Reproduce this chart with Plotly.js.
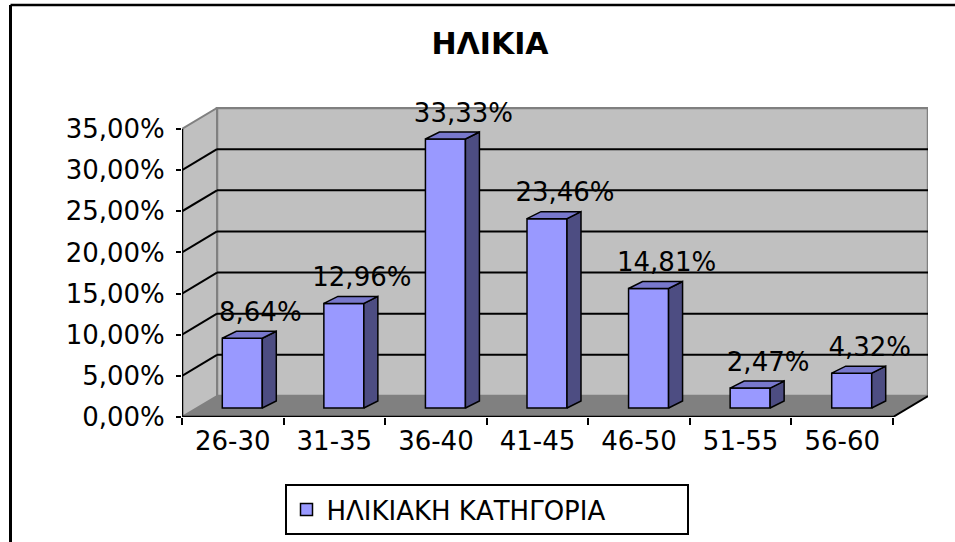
<!DOCTYPE html>
<html>
<head>
<meta charset="utf-8">
<script src="https://cdn.plot.ly/plotly-3.0.1.min.js"></script>
<style>
  html, body { margin: 0; padding: 0; background: #ffffff; }
  #chart { width: 955px; height: 542px; }
</style>
</head>
<body>
<div id="chart"></div>
<script>
// ---------------- data ----------------
const titleText = 'ΗΛΙΚΙΑ';
const seriesName = 'ΗΛΙΚΙΑΚΗ ΚΑΤΗΓΟΡΙΑ';
const categories = ['26-30', '31-35', '36-40', '41-45', '46-50', '51-55', '56-60'];
const values = [8.64, 12.96, 33.33, 23.46, 14.81, 2.47, 4.32];
const yTickVals = [0, 5, 10, 15, 20, 25, 30, 35];
const yTickText = ['0,00%', '5,00%', '10,00%', '15,00%', '20,00%', '25,00%', '30,00%', '35,00%'];

// ---------------- geometry / style ----------------
const FONT = 'DejaVu Sans, Arial, sans-serif';
const M = { l: 182, r: 27, t: 107, b: 125 };
const W = 955 - M.l - M.r, H = 542 - M.t - M.b;
const pxPerCat = 711 / 7;                 // front plane
const pxPerPct = 288 / 35;                // front plane
const DX = 35 / pxPerCat;                 // depth offset in x units
const DY = 21 / pxPerPct;                 // depth offset in y units
const xMax = categories.length + DX;
const yMax = H / pxPerPct;
// bar plane (slightly deeper, own scale)
const barPxPerPct = 8.07;
const barBasePx = 9;
const y2Range = [-barBasePx / barPxPerPct, (H - barBasePx) / barPxPerPct];
const barShift = 9.5 / pxPerCat;
const barW = 40 / pxPerCat;
const sideX = 14 / pxPerCat;
const sideY = 7 / barPxPerPct;
const labShiftX = 18 / pxPerCat;
const labShiftY = 24 / barPxPerPct;

const FRONT = '#9999FF', TOP = '#7878CC', SIDE = '#4D4D82';

const traces = [];
const centers = categories.map((c, i) => i + 0.5 + barShift);

// front faces
traces.push({
  type: 'bar', name: seriesName, x: centers, y: values, width: barW,
  xaxis: 'x', yaxis: 'y2',
  marker: { color: FRONT, line: { color: '#000000', width: 1.5 } },
  hoverinfo: 'skip', showlegend: true
});
// side and top faces
values.forEach((v, i) => {
  const l = centers[i] - barW / 2, r = centers[i] + barW / 2;
  traces.push({
    type: 'scatter', mode: 'lines', xaxis: 'x', yaxis: 'y2', showlegend: false, hoverinfo: 'skip',
    x: [r, r + sideX, r + sideX, r, r], y: [0, sideY, v + sideY, v, 0],
    fill: 'toself', fillcolor: SIDE, line: { color: '#000000', width: 1.5 }
  });
  traces.push({
    type: 'scatter', mode: 'lines', xaxis: 'x', yaxis: 'y2', showlegend: false, hoverinfo: 'skip',
    x: [l, r, r + sideX, l + sideX, l], y: [v, v, v + sideY, v + sideY, v],
    fill: 'toself', fillcolor: TOP, line: { color: '#000000', width: 1.5 }
  });
});
// data labels
traces.push({
  type: 'scatter', mode: 'text', xaxis: 'x', yaxis: 'y2', showlegend: false, hoverinfo: 'skip',
  x: centers.map(c => c + labShiftX), y: values.map(v => v + labShiftY),
  text: values.map(v => v.toFixed(2).replace('.', ',') + '%'),
  textposition: 'middle center', cliponaxis: false,
  textfont: { family: FONT, size: 26, color: '#000000' }
});

// ---------------- shapes (walls, floor, grid) ----------------
const shapes = [];
const nC = categories.length;
shapes.push({ type: 'rect', layer: 'below', xref: 'x', yref: 'y', x0: DX, x1: nC + DX, y0: DY, y1: 35 + DY,
  fillcolor: '#C0C0C0', line: { color: '#808080', width: 2.5 } });
shapes.push({ type: 'path', layer: 'below', xref: 'x', yref: 'y',
  path: `M0,0 L${DX},${DY} L${DX},${35 + DY} L0,35 Z`, fillcolor: '#C0C0C0', line: { color: '#808080', width: 2 } });
shapes.push({ type: 'path', layer: 'below', xref: 'x', yref: 'y',
  path: `M0,0 L${nC},0 L${nC + DX},${DY} L${DX},${DY} Z`, fillcolor: '#808080', line: { width: 0 } });
yTickVals.forEach(v => {
  if (v > 0 && v < 35) {
    shapes.push({ type: 'line', layer: 'below', xref: 'x', yref: 'y', x0: DX, x1: nC + DX, y0: v + DY, y1: v + DY,
      line: { color: '#000000', width: 2 } });
    shapes.push({ type: 'line', layer: 'below', xref: 'x', yref: 'y', x0: 0, x1: DX, y0: v, y1: v + DY,
      line: { color: '#000000', width: 2 } });
  }
});
shapes.push({ type: 'line', layer: 'below', xref: 'x', yref: 'y', x0: 0, x1: nC, y0: 0, y1: 0, line: { color: '#000000', width: 2.5 } });
shapes.push({ type: 'line', layer: 'below', xref: 'x', yref: 'y', x0: nC, x1: nC + DX, y0: 0, y1: DY, line: { color: '#000000', width: 2 } });
shapes.push({ type: 'line', layer: 'below', xref: 'x', yref: 'y', x0: 0, x1: 0, y0: 0, y1: 35, line: { color: '#000000', width: 2.5 } });
// outer chart border (top and left)
const px2paperX = p => (p - M.l) / W;
const px2paperY = p => (542 - M.b - p) / H;
shapes.push({ type: 'line', xref: 'paper', yref: 'paper', x0: px2paperX(10.5), x1: px2paperX(970), y0: px2paperY(5), y1: px2paperY(5),
  line: { color: '#000000', width: 2.5 } });
shapes.push({ type: 'line', xref: 'paper', yref: 'paper', x0: px2paperX(10.5), x1: px2paperX(10.5), y0: px2paperY(5), y1: px2paperY(560),
  line: { color: '#000000', width: 3 } });

const layout = {
  width: 955, height: 542,
  margin: M,
  paper_bgcolor: '#ffffff', plot_bgcolor: '#ffffff',
  showlegend: true,
  title: { text: titleText, x: 490 / 955, xref: 'container', xanchor: 'center', y: 1 - 43 / 542, yref: 'container', yanchor: 'middle',
    font: { family: FONT, size: 30, color: '#000000', weight: 'bold' } },
  xaxis: {
    range: [0, xMax], tickmode: 'array', tickvals: categories.map((c, i) => i + 0.5), ticktext: categories,
    ticks: '', showgrid: false, zeroline: false, showline: false, fixedrange: true,
    tickfont: { family: FONT, size: 26, color: '#000000' }, ticklabelstandoff: 6,
    minor: { tickmode: 'array', tickvals: categories.map((c, i) => i).concat([nC]), ticks: 'outside', ticklen: 7, tickwidth: 2, tickcolor: '#000000', showgrid: false }
  },
  yaxis: {
    range: [0, yMax], tickmode: 'array', tickvals: yTickVals, ticktext: yTickText,
    ticks: 'outside', ticklen: 5, tickwidth: 2, tickcolor: '#000000',
    showgrid: false, zeroline: false, showline: false, fixedrange: true,
    tickfont: { family: FONT, size: 26, color: '#000000' }, ticklabelstandoff: 6
  },
  yaxis2: { range: y2Range, overlaying: 'y', visible: false, fixedrange: true },
  legend: {
    orientation: 'h', xref: 'container', yref: 'container', x: 486.5 / 955, xanchor: 'center', y: 1 - 535 / 542, yanchor: 'bottom',
    bordercolor: '#000000', borderwidth: 2, bgcolor: '#ffffff', entrywidth: 355,
    font: { family: FONT, size: 26, color: '#000000' }
  },
  shapes: shapes
};

Plotly.newPlot('chart', traces, layout, { displayModeBar: false, staticPlot: true });
</script>
</body>
</html>
